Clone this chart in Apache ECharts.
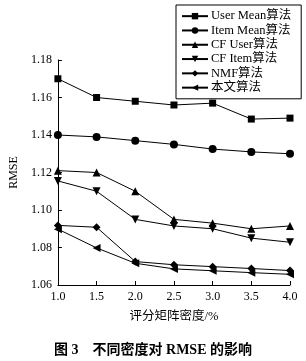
<!DOCTYPE html>
<html>
<head>
<meta charset="utf-8">
<script src="https://cdn.jsdelivr.net/npm/echarts@6/dist/echarts.min.js"></script>
<style>
html,body{margin:0;padding:0;background:#fff;}
#c{width:306px;height:361px;}
</style>
</head>
<body>
<div id="c"></div>
<script>
var densities = [1.0, 1.5, 2.0, 2.5, 3.0, 3.5, 4.0];
var seriesNames = ['User Mean算法', 'Item Mean算法', 'CF User算法', 'CF Item算法', 'NMF算法', '本文算法'];
var userMean = [1.170, 1.160, 1.158, 1.156, 1.157, 1.1485, 1.149];
var itemMean = [1.140, 1.139, 1.137, 1.135, 1.1325, 1.131, 1.130];
var cfUser = [1.121, 1.120, 1.110, 1.095, 1.093, 1.090, 1.0915];
var cfItem = [1.1155, 1.110, 1.095, 1.0915, 1.090, 1.085, 1.0828];
var nmf = [1.0918, 1.0908, 1.0725, 1.0708, 1.0698, 1.0688, 1.0677];
var ours = [1.0898, 1.0798, 1.0716, 1.0686, 1.0676, 1.0666, 1.0657];
var yTicks = [1.06, 1.08, 1.10, 1.12, 1.14, 1.16, 1.18];
var xTicks = [1.0, 1.5, 2.0, 2.5, 3.0, 3.5, 4.0];

var serif = '"Liberation Serif", "Noto Sans CJK SC", serif';
var symbols = [
  'rect',
  'circle',
  'triangle',
  'path://M0,0 L10,0 L5,9 Z',
  'diamond',
  'path://M0,5 L9,0 L9,10 Z'
];
var sizes = [7, 8, 8, 8, 8, 8];
var values = [userMean, itemMean, cfUser, cfItem, nmf, ours];

var series = seriesNames.map(function (n, i) {
  return {
    name: n,
    type: 'line',
    data: densities.map(function (d, j) { return [d, values[i][j]]; }),
    symbol: symbols[i],
    symbolSize: sizes[i],
    showAllSymbol: true,
    lineStyle: { color: '#000', width: 1 },
    itemStyle: { color: '#000', borderWidth: 0 },
    emphasis: { disabled: true },
    animation: false
  };
});

var chart = echarts.init(document.getElementById('c'), null, { renderer: 'canvas' });
chart.setOption({
  backgroundColor: '#fff',
  animation: false,
  title: {
    text: '图 3\u3000不同密度对 RMSE 的影响',
    left: 'center',
    top: 338,
    textStyle: { fontFamily: serif, fontSize: 14, fontWeight: 'bold', color: '#000' }
  },
  legend: {
    orient: 'vertical',
    left: 176,
    top: 5,
    width: 124,
    padding: [4, 10, 4, 5],
    borderColor: '#000',
    borderWidth: 1,
    itemWidth: 26,
    itemHeight: 8,
    itemGap: 0,
    textStyle: { fontFamily: serif, fontSize: 12.5, color: '#000', lineHeight: 14.3, padding: [0, 0, 0, -2] },
    data: seriesNames
  },
  grid: { left: 49, right: 16, top: 60, bottom: 76, containLabel: false },
  xAxis: {
    type: 'value',
    min: 1.0,
    max: 4.0,
    interval: 0.5,
    name: '评分矩阵密度/%',
    nameLocation: 'middle',
    nameGap: 25,
    nameTextStyle: { fontFamily: serif, fontSize: 12.5, color: '#000' },
    axisLine: { show: true, lineStyle: { color: '#000', width: 1 } },
    axisTick: { show: true, inside: true, length: 4, lineStyle: { color: '#000' } },
    axisLabel: { margin: 6, fontFamily: serif, fontSize: 12, color: '#000', formatter: function (v) { return v.toFixed(1); } },
    splitLine: { show: false }
  },
  yAxis: {
    type: 'value',
    min: 1.06,
    max: 1.18,
    interval: 0.02,
    name: 'RMSE',
    nameLocation: 'middle',
    nameRotate: 90,
    nameGap: 30,
    nameTextStyle: { fontFamily: serif, fontSize: 12, color: '#000' },
    axisLine: { show: true, lineStyle: { color: '#000', width: 1 } },
    axisTick: { show: true, inside: true, length: 4, lineStyle: { color: '#000' } },
    axisLabel: { margin: 6, fontFamily: serif, fontSize: 12, color: '#000', formatter: function (v) { return v.toFixed(2); } },
    splitLine: { show: false }
  },
  series: series
});
</script>
</body>
</html>
